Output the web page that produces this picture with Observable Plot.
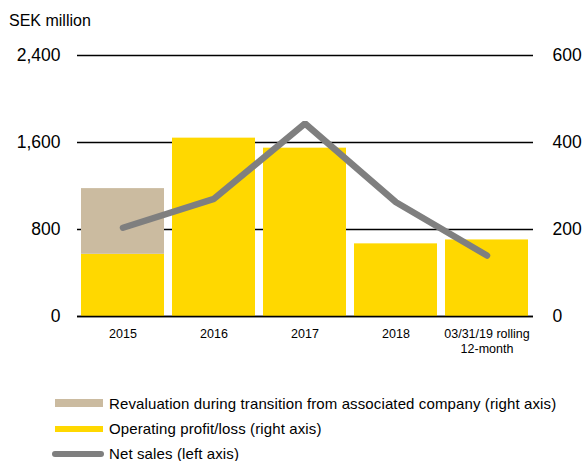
<!DOCTYPE html>
<html><head><meta charset="utf-8">
<script src="https://cdn.jsdelivr.net/npm/d3@7"></script>
<script src="https://cdn.jsdelivr.net/npm/@observablehq/plot@0.6"></script>
<style>
body{margin:0;background:#fff;font-family:"Liberation Sans",Arial,sans-serif;}
#wrap{position:relative;width:584px;height:461px;overflow:hidden;}
#title{position:absolute;left:9px;top:13px;font-size:16px;line-height:16px;color:#000;}
#chart{position:absolute;left:0;top:35px;}
.lg{position:absolute;left:55px;font-size:15px;line-height:16px;letter-spacing:0.12px;color:#000;white-space:nowrap;}
.sw{position:absolute;left:0;width:48px;}
.lbl{position:absolute;left:54px;top:0;}
</style></head>
<body><div id="wrap">
<div id="title">SEK million</div>
<div id="chart"></div>
<div class="lg" style="top:396px;"><div class="sw" style="top:3px;height:8px;background:#CBBBA0;"></div><div class="lbl">Revaluation during transition from associated company (right axis)</div></div>
<div class="lg" style="top:421px;"><div class="sw" style="top:5px;height:6px;background:#FFD800;"></div><div class="lbl">Operating profit/loss (right axis)</div></div>
<div class="lg" style="top:446px;"><div class="sw" style="top:5px;height:6px;left:-3px;width:52px;border-radius:3px;background:#7F7F7F;"></div><div class="lbl">Net sales (left axis)</div></div>
</div>
<script>
const categories = ["2015", "2016", "2017", "2018", "03/31/19 rolling\n12-month"];
const operatingProfit = [143, 410, 387, 167, 176];   // right axis
const revaluation = [151, 0, 0, 0, 0];               // right axis
const netSales = [816, 1082, 1775, 1051, 561];       // left axis
const leftTicks = [0, 800, 1600, 2400];
const rightTicks = [0, 200, 400, 600];
const ratio = 4; // left axis / right axis

const bars = [];
categories.forEach((c, i) => {
  bars.push({cat: c, series: "Operating profit/loss", value: operatingProfit[i]});
  bars.push({cat: c, series: "Revaluation", value: revaluation[i]});
});
const line = categories.map((c, i) => ({cat: c, net: netSales[i]}));

const chart = Plot.plot({
  width: 584, height: 326,
  marginTop: 20, marginBottom: 45, marginLeft: 77, marginRight: 51,
  style: {fontFamily: "Liberation Sans, Arial, sans-serif", color: "#000", background: "transparent"},
  x: {domain: categories, paddingInner: 0.087, paddingOuter: 0.035, label: null},
  y: {domain: [0, 600], label: null},
  color: {domain: ["Operating profit/loss", "Revaluation"], range: ["#FFD800", "#CBBBA0"]},
  marks: [
    Plot.ruleY(rightTicks, {stroke: "#000", strokeWidth: 1.5}),
    Plot.barY(bars, {x: "cat", y: "value", fill: "series"}),
    Plot.ruleY([0], {stroke: "#000", strokeWidth: 1.5}),
    Plot.line(line, {x: "cat", y: d => d.net / ratio, stroke: "#7F7F7F", strokeWidth: 6.5, strokeLinecap: "round", strokeLinejoin: "miter"}),
    Plot.axisY(leftTicks.map(d => d / ratio), {anchor: "left", tickSize: 0, tickPadding: 17, fontSize: 17.5, tickFormat: d => d3.format(",")(d * ratio), label: null}),
    Plot.axisY(rightTicks, {anchor: "right", tickSize: 0, tickPadding: 19, fontSize: 17.5, tickFormat: d => String(d), label: null}),
    Plot.axisX({tickSize: 0, tickPadding: 10, fontSize: 12.5, label: null, lineHeight: 1.25})
  ]
});
document.getElementById("chart").appendChild(chart);
</script>
</body></html>
